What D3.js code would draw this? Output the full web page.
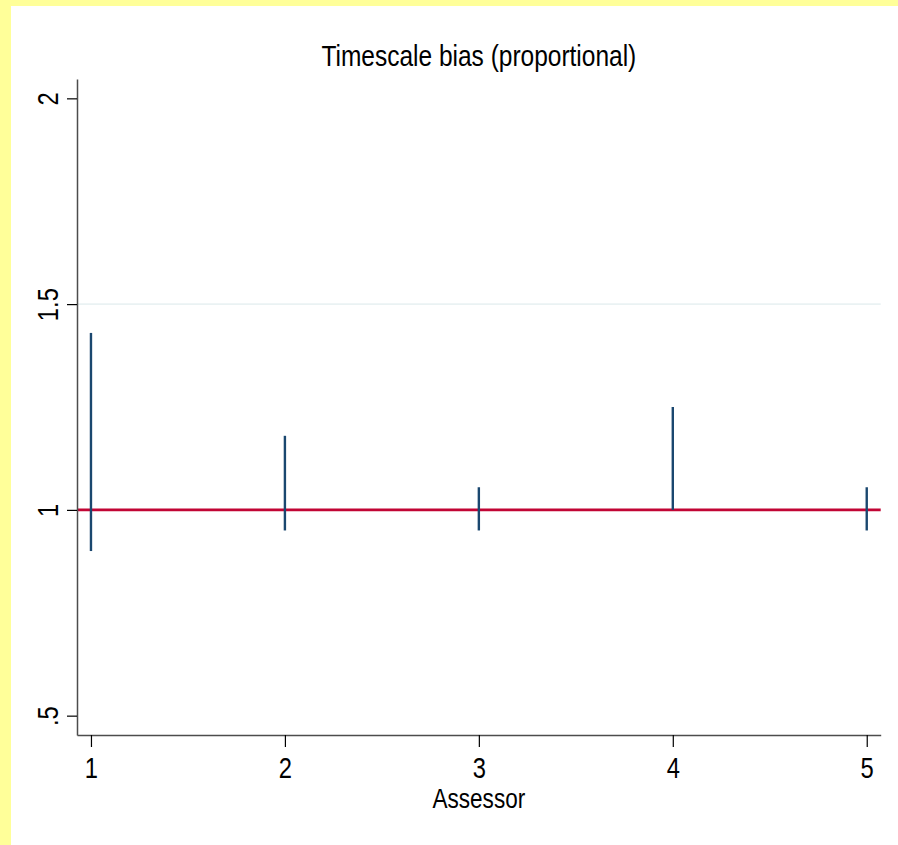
<!DOCTYPE html>
<html lang="en">
<head>
    <meta charset="utf-8" />
    <title>Timescale bias (proportional)</title>
    <script src="https://d3js.org/d3.v7.min.js"></script>
    <style>
        body { margin: 0; background: #ffff99; }
        svg text { font-family: "Liberation Sans", Arial, sans-serif; fill: #000; }
    </style>
</head>
<body>
    <script>
        // data
        var assessors = [1, 2, 3, 4, 5];
        var lower = [0.90, 0.95, 0.95, 1.00, 0.95];
        var upper = [1.43, 1.18, 1.055, 1.25, 1.055];
        var yTicks = [0.5, 1, 1.5, 2];
        var yTickLabels = [".5", "1", "1.5", "2"];
        var refValue = 1;
        var gridValues = [1.5];

        var width = 898, height = 845;
        var narrow = 0.82; // condensed look of the original font

        var svg = d3.select("body").append("svg")
            .attr("width", width)
            .attr("height", height)
            .style("display", "block");

        // yellow frame on left and top, white page
        svg.append("rect").attr("width", width).attr("height", height).attr("fill", "#ffff99");
        svg.append("rect").attr("x", 11).attr("y", 6).attr("width", width - 11).attr("height", height - 6).attr("fill", "#fff");

        var x = d3.scaleLinear().domain([0.928, 5.072]).range([77, 880.7]);
        var y = d3.scaleLinear().domain([0.453, 2.047]).range([735, 79]);

        // grid
        svg.append("g").selectAll("line")
            .data(gridValues)
            .enter().append("line")
            .attr("x1", x.range()[0]).attr("x2", x.range()[1])
            .attr("y1", function (d) { return y(d); })
            .attr("y2", function (d) { return y(d); })
            .attr("stroke", "#eaf2f3")
            .attr("stroke-width", 1.6);

        // reference line
        svg.append("line")
            .attr("x1", x.range()[0]).attr("x2", x.range()[1])
            .attr("y1", y(refValue)).attr("y2", y(refValue))
            .attr("stroke", "#c10534")
            .attr("stroke-width", 2.6);

        // spikes
        svg.append("g").selectAll("line")
            .data(assessors)
            .enter().append("line")
            .attr("x1", function (d) { return x(d); })
            .attr("x2", function (d) { return x(d); })
            .attr("y1", function (d, i) { return y(lower[i]); })
            .attr("y2", function (d, i) { return y(upper[i]); })
            .attr("stroke", "#1a476f")
            .attr("stroke-width", 2.4);

        // y axis
        var yAxis = svg.append("g")
            .attr("transform", "translate(" + x.range()[0] + ",0)")
            .call(d3.axisLeft(y).tickValues(yTicks).tickSize(10).tickSizeOuter(0)
                .tickFormat(function (d, i) { return yTickLabels[i]; }));
        yAxis.select(".domain").attr("stroke", "#4d4d4d").attr("stroke-width", 1.5);
        yAxis.selectAll(".tick line").attr("stroke", "#000").attr("stroke-width", 1.2);
        yAxis.selectAll(".tick text")
            .attr("x", null).attr("dy", null)
            .attr("text-anchor", "middle")
            .attr("font-size", 29)
            .attr("transform", "translate(-19,0) rotate(-90) scale(" + narrow + ",1)");

        // x axis
        var xAxis = svg.append("g")
            .attr("transform", "translate(0," + y.range()[0] + ")")
            .call(d3.axisBottom(x).tickValues(assessors).tickSize(12).tickSizeOuter(0)
                .tickFormat(d3.format("d")));
        xAxis.select(".domain").attr("stroke", "#4d4d4d").attr("stroke-width", 1.5);
        xAxis.selectAll(".tick line").attr("stroke", "#000").attr("stroke-width", 1.2);
        xAxis.selectAll(".tick text")
            .attr("y", 43.3).attr("dy", null)
            .attr("font-size", 29)
            .attr("transform", "scale(" + narrow + ",1)");

        var cx = (x.range()[0] + x.range()[1]) / 2;

        // titles
        svg.append("text")
            .attr("transform", "translate(" + cx + ",65.7) scale(0.845,1)")
            .attr("text-anchor", "middle")
            .attr("font-size", 29)
            .text("Timescale bias (proportional)");

        svg.append("text")
            .attr("transform", "translate(" + cx + ",807.7) scale(" + narrow + ",1)")
            .attr("text-anchor", "middle")
            .attr("font-size", 27.5)
            .text("Assessor");
    </script>
</body>
</html>
